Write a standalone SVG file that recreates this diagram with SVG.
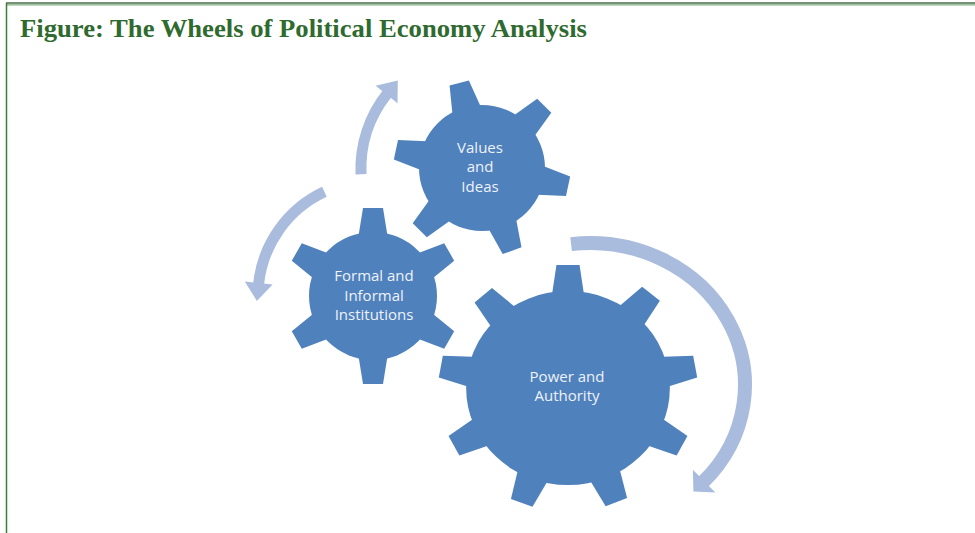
<svg xmlns="http://www.w3.org/2000/svg" xmlns:xlink="http://www.w3.org/1999/xlink" width="975" height="533" viewBox="0 0 975 533">
  <style>
    .gear { fill: #4f81bd; }
    .label { font-family: "Open Sans", "Noto Sans", sans-serif; font-size: 15px; fill: #eef2fa; text-anchor: middle; }
    .title { font-family: "Liberation Serif", "Times New Roman", serif; font-weight: bold; font-size: 26px; fill: #2f6a2f; }
    .band { fill: none; stroke: #a9bcdd; stroke-linecap: butt; }
  </style>
  <defs>
    <polygon id="toothS" points="54,-15.5 88,-10 88,10 54,15.5"/>
    <polygon id="toothL" points="88,-16 123,-11 123,11 88,16"/>
    <marker id="headA" markerUnits="userSpaceOnUse" orient="auto" refX="0" refY="0" markerWidth="40" markerHeight="40" overflow="visible">
      <path d="M-1,-14 L17,0 L-1,14 Z" fill="#a9bcdd"/>
    </marker>
    <marker id="headB" markerUnits="userSpaceOnUse" orient="auto" refX="0" refY="0" markerWidth="40" markerHeight="40" overflow="visible">
      <path d="M-1,-16 L14,0 L-1,16 Z" fill="#a9bcdd"/>
    </marker>
  </defs>

  <rect x="0" y="0" width="975" height="533" fill="#ffffff"/>

  <!-- frame -->
  <g id="frame">
    <line x1="6" y1="3" x2="975" y2="3" stroke="#4b6b4b" stroke-width="1.5"/>
    <line x1="6" y1="4.8" x2="975" y2="4.8" stroke="#7fb07f" stroke-width="1.2"/>
    <line x1="6.5" y1="3" x2="6.5" y2="533" stroke="#3a7d3a" stroke-width="1.5"/>
  </g>

  <text id="title" class="title" x="20" y="37" textLength="567" lengthAdjust="spacingAndGlyphs">Figure: The Wheels of Political Economy Analysis</text>

  <!-- connectors -->
  <g id="connectors">
    <path class="band" stroke-width="11" d="M 361 174.2 A 121 121 0 0 1 387.2 93.7" marker-end="url(#headA)"/>
    <path class="band" stroke-width="11" d="M 324.4 191.8 A 115 115 0 0 0 258.6 284.0" marker-end="url(#headA)"/>
    <path class="band" stroke-width="14" d="M 571.1 244.1 A 155 142 0 0 1 703.4 481.8" marker-end="url(#headB)"/>
  </g>

  <!-- Values and Ideas -->
  <g id="values-ideas">
    <g class="gear" transform="translate(482,168)">
      <circle r="63"/>
      <use xlink:href="#toothS" transform="rotate(255)"/>
      <use xlink:href="#toothS" transform="rotate(315)"/>
      <use xlink:href="#toothS" transform="rotate(12)"/>
      <use xlink:href="#toothS" transform="rotate(70)"/>
      <use xlink:href="#toothS" transform="rotate(135)"/>
      <use xlink:href="#toothS" transform="rotate(192)"/>
    </g>
    <text class="label" x="480" y="153">Values</text>
    <text class="label" x="480" y="172">and</text>
    <text class="label" x="480" y="192">Ideas</text>
  </g>

  <!-- Formal and Informal Institutions -->
  <g id="formal-informal">
    <g class="gear" transform="translate(373,296)">
      <circle r="64"/>
      <use xlink:href="#toothS" transform="rotate(30)"/>
      <use xlink:href="#toothS" transform="rotate(90)"/>
      <use xlink:href="#toothS" transform="rotate(150)"/>
      <use xlink:href="#toothS" transform="rotate(210)"/>
      <use xlink:href="#toothS" transform="rotate(270)"/>
      <use xlink:href="#toothS" transform="rotate(330)"/>
    </g>
    <text class="label" x="374" y="281">Formal and</text>
    <text class="label" x="374" y="301">Informal</text>
    <text class="label" x="374" y="320">Institutions</text>
  </g>

  <!-- Power and Authority -->
  <g id="power-authority">
    <g class="gear" transform="translate(568,388) scale(1.05,1)">
      <circle r="97"/>
      <use xlink:href="#toothL" transform="rotate(270)"/>
      <use xlink:href="#toothL" transform="rotate(310)"/>
      <use xlink:href="#toothL" transform="rotate(350)"/>
      <use xlink:href="#toothL" transform="rotate(28)"/>
      <use xlink:href="#toothL" transform="rotate(68)"/>
      <use xlink:href="#toothL" transform="rotate(111)"/>
      <use xlink:href="#toothL" transform="rotate(152)"/>
      <use xlink:href="#toothL" transform="rotate(190)"/>
      <use xlink:href="#toothL" transform="rotate(229)"/>
    </g>
    <text class="label" x="567" y="382">Power and</text>
    <text class="label" x="567" y="401">Authority</text>
  </g>
</svg>
